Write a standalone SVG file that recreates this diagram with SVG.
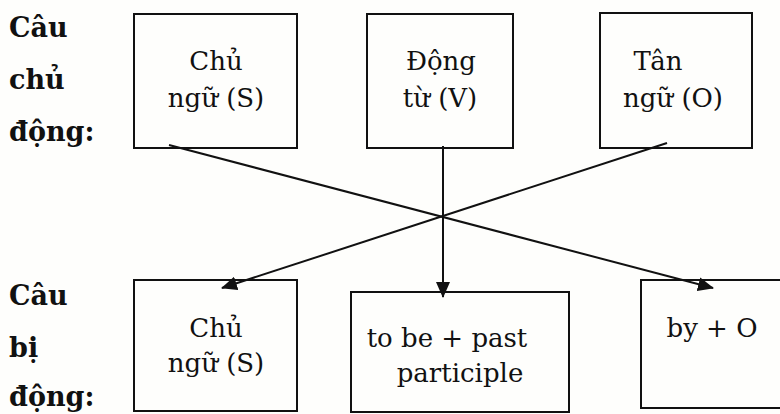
<svg xmlns="http://www.w3.org/2000/svg" width="780" height="414" viewBox="0 0 780 414">
<style>
.box{fill:none;stroke:#111;stroke-width:2}
.lbl{font-family:"DejaVu Serif","Liberation Serif",serif;font-weight:bold;font-size:27px;fill:#111}
.t{font-family:"DejaVu Serif","Liberation Serif",serif;font-size:26px;fill:#111;text-anchor:middle}
.c{stroke:#111;stroke-width:2;fill:none}
</style>
<defs>
<marker id="ah" viewBox="0 0 16 14" refX="15" refY="7" markerWidth="16" markerHeight="14" markerUnits="userSpaceOnUse" orient="auto">
<path d="M0,0 L16,7 L0,14 Z" fill="#111"/>
</marker>
</defs>
<rect width="780" height="414" fill="#fefefc"/>
<g id="label-active">
<text class="lbl" x="9" y="37">Câu</text>
<text class="lbl" x="9" y="89">chủ</text>
<text class="lbl" x="9" y="141">động:</text>
</g>
<g id="label-passive">
<text class="lbl" x="9" y="305">Câu</text>
<text class="lbl" x="9" y="357">bị</text>
<text class="lbl" x="9" y="406">động:</text>
</g>
<g id="n-subject">
<rect class="box" x="134" y="14" width="163" height="134"/>
<text class="t" x="216" y="70">Chủ</text>
<text class="t" x="216" y="107">ngữ (S)</text>
</g>
<g id="n-verb">
<rect class="box" x="367" y="14" width="146" height="134"/>
<text class="t" x="441" y="70">Động</text>
<text class="t" x="440" y="107">từ (V)</text>
</g>
<g id="n-object">
<rect class="box" x="600" y="13" width="152" height="135"/>
<text class="t" x="658" y="70">Tân</text>
<text class="t" x="673" y="107">ngữ (O)</text>
</g>
<g id="n-psubject">
<rect class="box" x="134" y="280" width="163" height="131"/>
<text class="t" x="216" y="337">Chủ</text>
<text class="t" x="216" y="372">ngữ (S)</text>
</g>
<g id="n-tobe">
<rect class="box" x="351" y="292" width="218" height="120"/>
<text class="t" x="447" y="347">to be + past</text>
<text class="t" x="460" y="382">participle</text>
</g>
<g id="n-by">
<rect class="box" x="641" y="280" width="142" height="128"/>
<text class="t" x="712" y="337">by + O</text>
</g>
<g id="connectors">
<line class="c" x1="169" y1="145" x2="713" y2="288" marker-end="url(#ah)"/>
<line class="c" x1="667" y1="143" x2="222" y2="288" marker-end="url(#ah)"/>
<line class="c" x1="443" y1="146" x2="443" y2="297" marker-end="url(#ah)"/>
</g>
</svg>
